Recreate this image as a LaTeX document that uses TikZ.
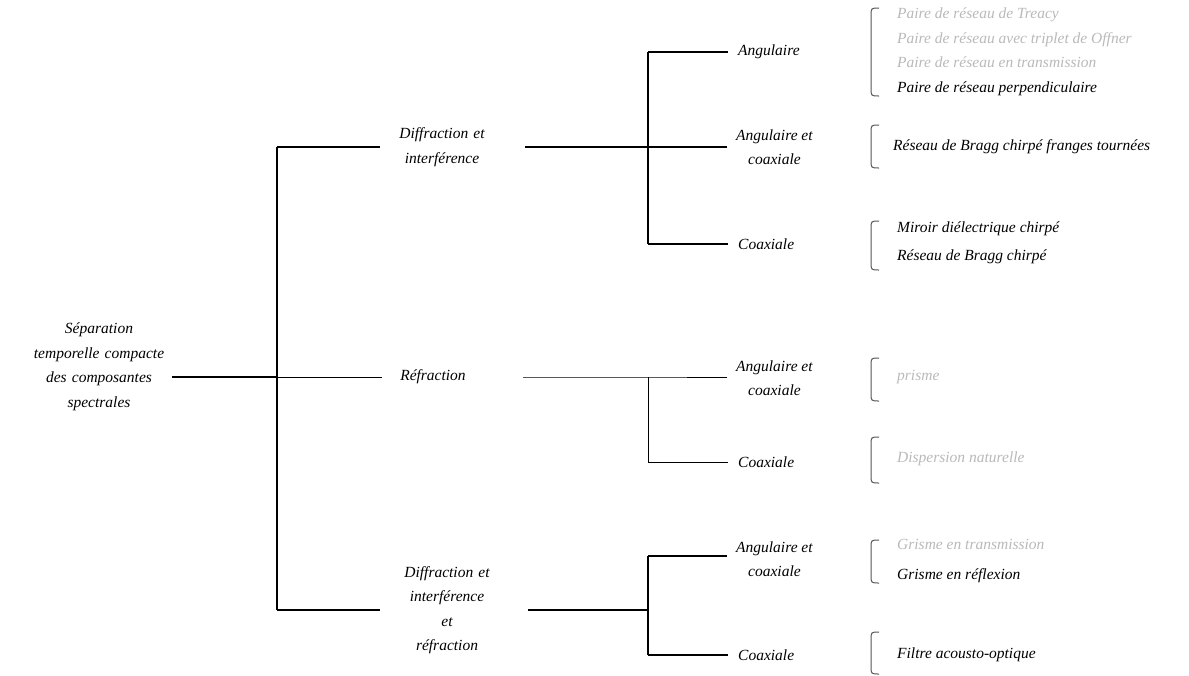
\documentclass[tikz,border=0pt]{standalone}
\usepackage{fontspec}
\setmainfont{Liberation Serif}
\definecolor{leafgray}{RGB}{185,185,185}
\definecolor{brkcol}{RGB}{85,85,85}
\newcommand\gr[1]{\textcolor{leafgray}{#1}}
\begin{document}
\begin{tikzpicture}[x=1pt,y=-1pt,
  lbl/.style={font=\itshape\fontsize{15.5}{24.5}\selectfont, align=center, inner sep=0pt},
  mid/.style={lbl, text width=120pt},
  sub/.style={lbl, anchor=west},
  leaf/.style={font=\itshape\fontsize{15.5}{24.5}\selectfont, align=left, anchor=west, inner sep=0pt},
  thk/.style={line width=2.2pt},
  thn/.style={line width=0.8pt},
  brk/.style={line width=1pt, draw=brkcol}]
\useasboundingbox (0,0) rectangle (1189,675);

% root and first level
\node[lbl, text width=146pt] (root) at (99,367) {Séparation\\temporelle compacte\\des composantes\\spectrales};
\node[mid] (d1) at (442,147) {Diffraction et\\interférence};
\node[mid] (rf) at (433,377) {Réfraction};
\node[mid] (d3) at (447,610) {Diffraction et\\interférence\\et\\réfraction};

% second level
\node[sub] (a1) at (738,52) {Angulaire};
\node[sub] (a2) at (736,147) {Angulaire et\\coaxiale};
\node[sub] (a3) at (738,244) {Coaxiale};
\node[sub] (b1) at (736,378) {Angulaire et\\coaxiale};
\node[sub] (b2) at (738,462) {Coaxiale};
\node[sub] (c1) at (736,559) {Angulaire et\\coaxiale};
\node[sub] (c2) at (738,655) {Coaxiale};

% leaves
\node[leaf] (l1) at (897,52) {\gr{Paire de réseau de Treacy}\\\gr{Paire de réseau avec triplet de Offner}\\\gr{Paire de réseau en transmission}\\Paire de réseau perpendiculaire};
\node[leaf] (l2) at (893,147) {Réseau de Bragg chirpé franges tournées};
\node[leaf] (l3) at (897,243) {Miroir diélectrique chirpé\\[3pt]Réseau de Bragg chirpé};
\node[leaf] (l4) at (897,377) {\gr{prisme}};
\node[leaf] (l5) at (897,459) {\gr{Dispersion naturelle}};
\node[leaf] (l6) at (897,561) {\gr{Grisme en transmission}\\[5pt]Grisme en réflexion};
\node[leaf] (l7) at (897,655) {Filtre acousto-optique};

% junctions
\coordinate (J0) at (277,377);
\coordinate (J0t) at (277,147);
\coordinate (J0b) at (277,610);
\coordinate (J1) at (648,147);
\coordinate (J1t) at (648,52);
\coordinate (J1b) at (648,244);
\coordinate (J2) at (648,377);
\coordinate (J2b) at (648,462);
\coordinate (J3) at (648,610);
\coordinate (J3t) at (648,556);
\coordinate (J3b) at (648,655);

% root connectors
\draw[thk] ([xshift=0pt]root.east |- J0) -- (J0);
\draw[thk] (J0t) -- (J0b);
\draw[thk] (J0t) -- ([xshift=-2pt]d1.west);
\draw[thn] (J0) -- ([xshift=9pt]rf.west |- J0);
\draw[thk] (J0b) -- ([xshift=-7pt]d3.west);

% diffraction branch
\draw[thk] ([xshift=23pt]d1.east) -- (J1);
\draw[thk] (J1t) -- (J1b);
\draw[thk] (J1t) -- ([xshift=-10pt]a1.west);
\draw[thk] (J1) -- ([xshift=-9pt]a2.west);
\draw[thk] (J1b) -- ([xshift=-10pt]a3.west);

% refraction branch
\draw[thn] ([xshift=30pt]rf.east |- J2) -- (J2) -- ([xshift=-9pt]b1.west |- J2);
\draw[thn] (J2) -- (J2b) -- ([xshift=-10pt]b2.west);

% combined branch
\draw[thk] ([xshift=21pt]d3.east) -- (J3);
\draw[thk] (J3t) -- (J3b);
\draw[thk] (J3t) -- ([xshift=-9pt]c1.west |- J3t);
\draw[thk] (J3b) -- ([xshift=-10pt]c2.west);

% brackets
\foreach \ya/\yb in {8/96, 125/168, 221/270, 358/401, 437/483, 540/583, 632/674}{
  \draw[brk] (879,\ya) .. controls (871,\ya) .. (871,\ya+8) -- (871,\yb-8) .. controls (871,\yb) .. (879,\yb);
}
\end{tikzpicture}
\end{document}
